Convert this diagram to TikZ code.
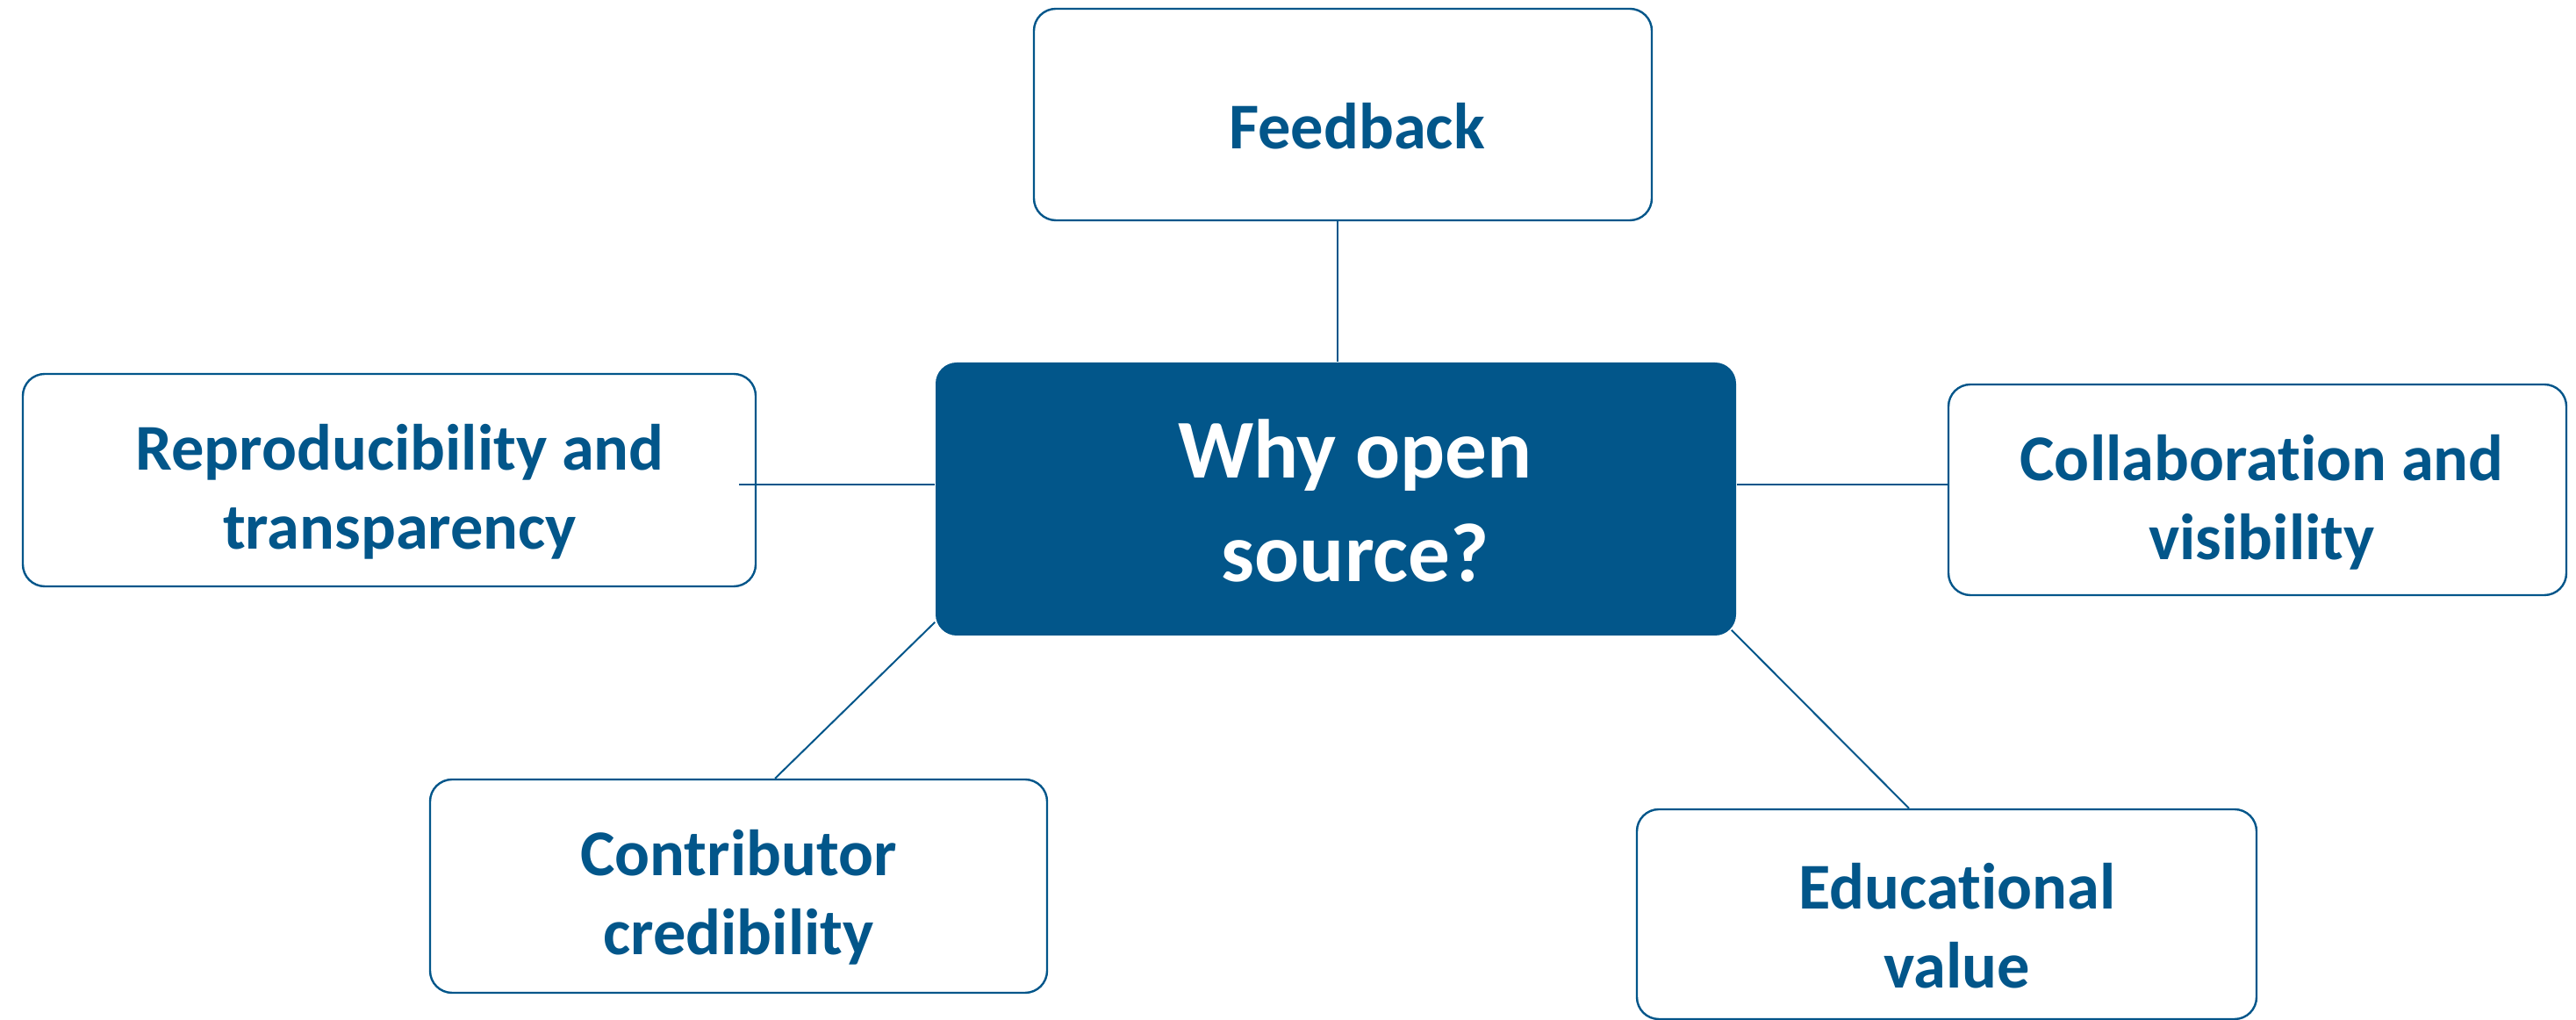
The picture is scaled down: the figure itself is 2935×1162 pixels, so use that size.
\documentclass[tikz,border=0pt]{standalone}
\usepackage{fontspec}
\setmainfont{Carlito}[Ligatures=CommonOff]
\definecolor{mainblue}{RGB}{2,86,138}
\tikzset{
  leaf/.style={draw=mainblue, line width=0.6pt, fill=white, rounded corners=6.25pt,
    inner sep=0pt},
  leaftext/.style={inner sep=0pt, align=center, text=mainblue,
    font=\fontsize{18.6pt}{22.5pt}\selectfont\bfseries},
  hub/.style={fill=mainblue, rounded corners=6pt, inner sep=0pt,
    minimum width=228pt, minimum height=77.75pt},
  hubtext/.style={inner sep=0pt, align=center, text=white,
    font=\fontsize{23.8pt}{29.5pt}\selectfont\bfseries},
  link/.style={draw=mainblue, line width=0.5pt}
}
\begin{document}
\begin{tikzpicture}[x=0.25pt,y=-0.25pt]
\useasboundingbox (0,0) rectangle (2935,1162);
\node[hub, label={[hubtext, xshift=5.5pt, yshift=-0.5pt]center:Why open\\source?}] (c) at (1522,568.5) {};
\node[leaf, minimum width=176pt, minimum height=60.25pt,
  label={[leaftext, xshift=4pt, yshift=-3.2pt]center:Feedback}] (fb) at (1530,130.5) {};
\node[leaf, minimum width=208.75pt, minimum height=60.5pt,
  label={[leaftext, xshift=3pt, yshift=-3.3pt]center:Reproducibility and\\transparency}] (rp) at (443.5,547) {};
\node[leaf, minimum width=176pt, minimum height=60pt,
  label={[leaftext, xshift=1.25pt, yshift=-3.6pt]center:Collaboration and\\visibility}] (cl) at (2572,558) {};
\node[leaf, minimum width=175.75pt, minimum height=60.75pt,
  label={[leaftext, yshift=-3.3pt]center:Contributor\\credibility}] (cb) at (841.5,1009.5) {};
\node[leaf, minimum width=176.5pt, minimum height=59.75pt,
  label={[leaftext, xshift=3pt, yshift=-3.3pt]center:Educational\\value}] (ed) at (2218,1041.5) {};
\coordinate (rpin) at (842,552);
\coordinate (clin) at (2220,552);
\draw[link] (fb.south -| 1524,0) -- (c.north -| 1524,0);
\draw[link] (c.west |- rpin) -- (rpin);
\draw[link] (c.east |- clin) -- (clin);
\draw[link] ([yshift=4pt]c.south west) -- ([xshift=10.4pt]cb.north);
\draw[link] ([xshift=-1.5pt,yshift=1.75pt]c.south east) -- ([xshift=-10.75pt]ed.north);
\end{tikzpicture}
\end{document}
